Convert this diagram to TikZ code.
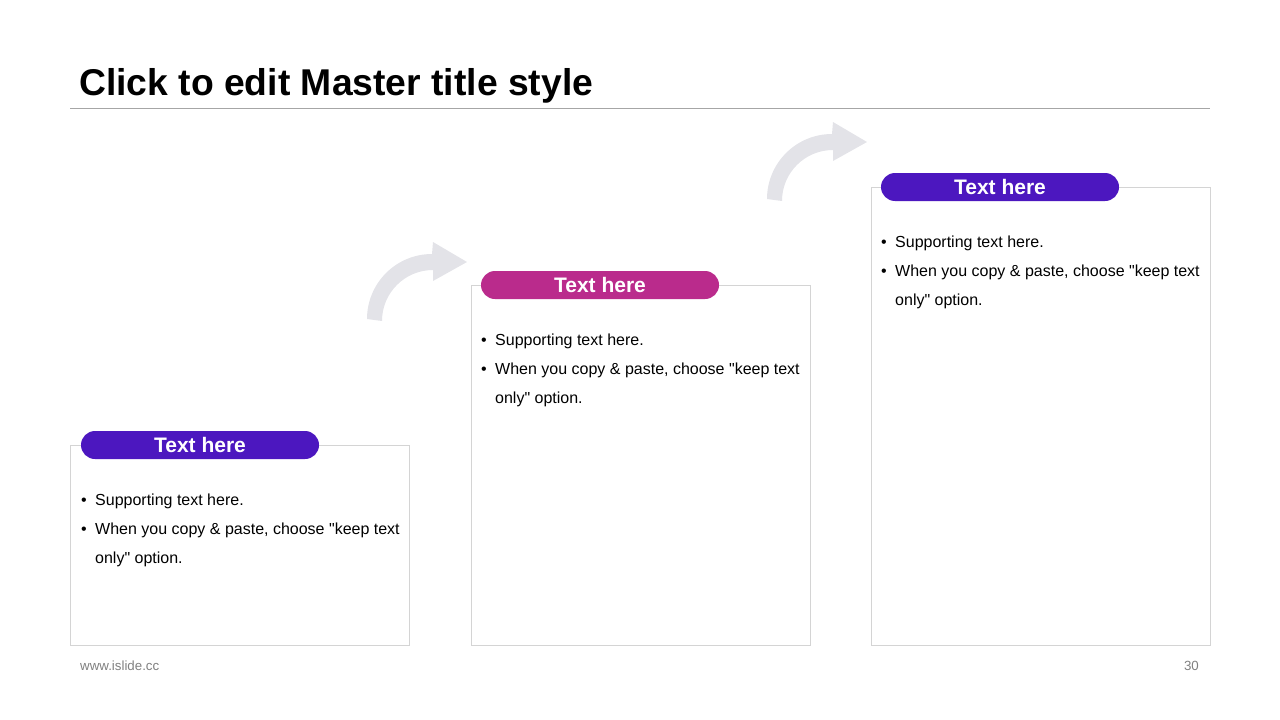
\documentclass[tikz,border=0pt]{standalone}
\usepackage{fontspec}
\setmainfont{Liberation Sans}
\usepackage{xcolor}
\definecolor{ink}{rgb}{0.00, 0.00, 0.00}
\definecolor{violet}{rgb}{0.30, 0.09, 0.75}
\definecolor{berry}{rgb}{0.73, 0.17, 0.55}
\definecolor{mist}{rgb}{0.89, 0.89, 0.91}
\definecolor{frame}{rgb}{0.83, 0.83, 0.83}
\definecolor{rule}{rgb}{0.65, 0.65, 0.65}
\definecolor{foot}{rgb}{0.50, 0.50, 0.50}
\usepackage{tikz}
\usetikzlibrary{calc,positioning}

\newcommand{\steptext}{%
  \begin{tabular}[t]{@{}p{14pt}@{}l@{}}
    \textbullet & Supporting text here.\\
    \textbullet & When you copy \& paste, choose \textquotedbl keep text\\
                & only\textquotedbl{} option.
  \end{tabular}}

\begin{document}
\begin{tikzpicture}[x=1pt,y=-1pt,
  card/.style={draw=frame,line width=0.8pt,fill=white,anchor=north west,
    minimum width=339pt,inner sep=0pt,outer sep=0pt},
  pill/.style={fill=#1,text=white,rounded corners=14pt,minimum width=238pt,
    minimum height=28pt,inner sep=0pt,outer sep=0pt,
    font=\bfseries\fontsize{21}{24}\selectfont},
  bullets/.style={anchor=base west,inner sep=0pt,text=ink,
    font=\fontsize{16}{29}\selectfont},
  turn/.style={fill=mist,draw=none}]
  \useasboundingbox (0,0) rectangle (1280,720);

  % title and rule
  \node[anchor=base west,inner sep=0pt,font=\bfseries\fontsize{37.3}{40}\selectfont]
    (title) at (79,95.5) {Click to edit Master title style};
  \coordinate (ruleL) at (70,108);
  \coordinate (ruleR) at (1210,108);
  \draw[rule,line width=0.8pt] (ruleL) -- (ruleR);

  % curved arrows
  \foreach \dx/\dy in {0/0,400/-120}{
    \begin{scope}[shift={(\dx,\dy)}]
      \fill[turn] (367,319) arc[start angle=180,end angle=270,radius=65]
        -- (433,242) -- (467,262) -- (433,281) -- (433,270)
        arc[start angle=270,end angle=180,radius=51] -- cycle;
    \end{scope}
  }

  % three steps
  \node[card,minimum height=200pt] (box1) at (70,445) {};
  \node[card,minimum height=360pt] (box2) at (471,285) {};
  \node[card,minimum height=458pt] (box3) at (871,187) {};

  \node[pill=violet,right=11pt of box1.north west] (head1) {Text here};
  \node[pill=berry,right=10pt of box2.north west] (head2) {Text here};
  \node[pill=violet,right=10pt of box3.north west] (head3) {Text here};

  \node[bullets] (list1) at ($(box1.north west)+(11,60)$) {\steptext};
  \node[bullets] (list2) at ($(box2.north west)+(10,60)$) {\steptext};
  \node[bullets] (list3) at ($(box3.north west)+(10,60)$) {\steptext};

  % footer
  \node[anchor=base west,inner sep=0pt,text=foot,font=\fontsize{13.3}{15}\selectfont]
    (site) at (80,670) {www.islide.cc};
  \node[anchor=base east,inner sep=0pt,text=foot,font=\fontsize{13.3}{15}\selectfont]
    (page) at (1199,670) {30};
\end{tikzpicture}
\end{document}
